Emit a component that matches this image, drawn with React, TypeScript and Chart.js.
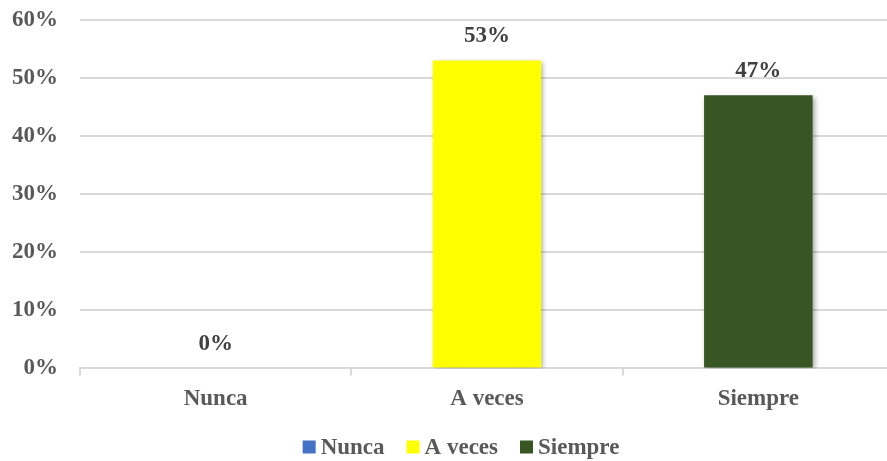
import React, { useEffect, useRef } from "react";
import { Chart, registerables } from "chart.js";

Chart.register(...registerables);

const categories = ["Nunca", "A veces", "Siempre"];
const values = [0, 0.53, 0.47];
const colors = ["#4472C4", "#FFFF00", "#375623"];
const yTicks = [0, 0.1, 0.2, 0.3, 0.4, 0.5, 0.6];

const FONT = "'Liberation Serif', 'Times New Roman', serif";
const FS = 23;
const SHIFT = 16;

const dataLabelPlugin = {
  id: "dataLabels",
  afterDatasetsDraw(chart: any) {
    const ctx = chart.ctx;
    const meta = chart.getDatasetMeta(0);
    ctx.save();
    ctx.font = `bold ${FS}px ${FONT}`;
    ctx.fillStyle = "#404040";
    ctx.textAlign = "center";
    ctx.textBaseline = "middle";
    meta.data.forEach((bar: any, i: number) => {
      const v = values[i];
      ctx.fillText(`${Math.round(v * 100)}%`, bar.x, bar.y - 24);
    });
    ctx.restore();
  },
};

const shadowPlugin = {
  id: "barShadow",
  beforeDatasetDraw(chart: any) {
    const ctx = chart.ctx;
    ctx.save();
    ctx.shadowColor = "rgba(0,0,0,0.35)";
    ctx.shadowBlur = 5;
    ctx.shadowOffsetX = 2;
    ctx.shadowOffsetY = 2;
  },
  afterDatasetDraw(chart: any) {
    chart.ctx.restore();
  },
};

const legendPlugin = {
  id: "customLegend",
  afterDraw(chart: any) {
    const ctx = chart.ctx;
    ctx.save();
    ctx.font = `bold ${FS}px ${FONT}`;
    const box = 13;
    const gap = 5;
    const itemGap = 22;
    const widths = categories.map((c) => box + gap + ctx.measureText(c).width);
    const total = widths.reduce((a, b) => a + b, 0) + itemGap * (categories.length - 1);
    const cy = 447 + SHIFT;
    let x = 461 - total / 2;
    categories.forEach((c, i) => {
      ctx.fillStyle = colors[i];
      ctx.fillRect(x, cy - box / 2, box, box);
      ctx.fillStyle = "#595959";
      ctx.textAlign = "left";
      ctx.textBaseline = "middle";
      ctx.fillText(c, x + box + gap, cy + 1);
      x += widths[i] + itemGap;
    });
    ctx.restore();
  },
};

export default function App() {
  const ref = useRef<HTMLCanvasElement | null>(null);
  useEffect(() => {
    if (!ref.current) return;
    const chart = new Chart(ref.current, {
      type: "bar",
      data: {
        labels: categories,
        datasets: [
          {
            data: values,
            backgroundColor: colors,
            borderWidth: 0,
            barPercentage: 0.4,
            categoryPercentage: 1,
          },
        ],
      },
      options: {
        animation: false,
        responsive: false,
        maintainAspectRatio: false,
        layout: { padding: { top: 0, right: 2, left: -10, bottom: 38 } },
        plugins: {
          tooltip: { enabled: false },
          legend: { display: false },
        },
        scales: {
          x: {
            grid: {
              display: true,
              drawOnChartArea: false,
              drawTicks: true,
              tickLength: 7,
              color: "#d9d9d9",
              lineWidth: 2,
              offset: true,
            },
            border: { display: true, color: "#d9d9d9", width: 2 },
            ticks: {
              color: "#595959",
              font: { family: FONT, size: FS, weight: "bold" },
              padding: 10,
            },
          },
          y: {
            min: 0,
            max: 0.6,
            afterBuildTicks: (axis: any) => {
              axis.ticks = yTicks.map((v) => ({ value: v }));
            },
            grid: {
              color: "#d9d9d9",
              lineWidth: 2,
              drawTicks: false,
            },
            border: { display: false },
            ticks: {
              color: "#595959",
              font: { family: FONT, size: FS, weight: "bold" },
              padding: 22,
              callback: (v: any) => `${Math.round(Number(v) * 100)}%`,
            },
          },
        },
      },
      plugins: [shadowPlugin, dataLabelPlugin, legendPlugin],
    });
    return () => chart.destroy();
  }, []);
  return (
    <div
      style={{
        position: "fixed",
        left: 0,
        top: 0,
        width: 887,
        height: 461,
        overflow: "hidden",
        background: "#fff",
      }}
    >
      <canvas
        ref={ref}
        width={896}
        height={461 + SHIFT}
        style={{ display: "block", marginTop: -SHIFT }}
      />
    </div>
  );
}
